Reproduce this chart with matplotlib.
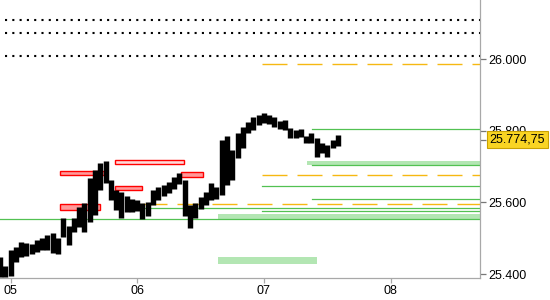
import matplotlib
matplotlib.use('Agg')
import matplotlib.pyplot as plt
from matplotlib.patches import Rectangle
from matplotlib.ticker import FuncFormatter

plt.rcParams['font.family'] = ['Liberation Sans', 'DejaVu Sans']

# hourly bars, x = hours since day 05 00:00
hours = list(range(-2, 63))
highs = [25447, 25422, 25467, 25475, 25489, 25487, 25484, 25495, 25500, 25509,
         25514, 25500, 25556, 25534, 25556, 25587, 25598, 25668, 25690, 25710,
         25715, 25662, 25634, 25629, 25618, 25609, 25607, 25598, 25601, 25634,
         25643, 25648, 25657, 25671, 25682, 25662, 25593, 25598, 25615, 25629,
         25654, 25643, 25774, 25785, 25746, 25793, 25810, 25824, 25838, 25844,
         25849, 25844, 25838, 25827, 25830, 25807, 25802, 25805, 25785, 25793,
         25780, 25766, 25760, 25774, 25788]
lows = [25392, 25392, 25394, 25434, 25447, 25450, 25456, 25461, 25467, 25467,
        25459, 25456, 25503, 25481, 25517, 25531, 25517, 25545, 25565, 25634,
        25654, 25607, 25579, 25556, 25573, 25573, 25576, 25553, 25562, 25593,
        25607, 25618, 25626, 25637, 25651, 25562, 25528, 25556, 25581, 25593,
        25607, 25609, 25620, 25648, 25662, 25724, 25752, 25793, 25802, 25816,
        25821, 25819, 25810, 25805, 25802, 25780, 25780, 25782, 25766, 25766,
        25727, 25738, 25727, 25752, 25757]
last_price = 25774.75

day_ticks = [0, 24, 48, 72]
day_labels = ['05', '06', '07', '08']
price_ticks = [25400, 25600, 25800, 26000]

# horizontal levels and the hour where each one starts
dotted_levels = [26109, 26073, 26008]
dotted_start = -1.0
orange_levels = [25986, 25676, 25595]
orange_starts = [47.6, 47.6, 25.0]
green_levels = [25553, 25584, 25576, 25609, 25646, 25704, 25805]
green_starts = [-2.0, 25.0, 47.6, 57.1, 47.6, 57.1, 57.1]

# green zones: low, high, start, end (None = open to the right)
gz_low = [25704, 25553, 25428]
gz_high = [25715, 25567, 25447]
gz_start = [56.2, 39.3, 39.3]
gz_end = [None, None, 58.1]

# red zones
rz_low = [25677, 25708, 25635, 25578, 25672]
rz_high = [25687, 25718, 25645, 25595, 25684]
rz_start = [9.4, 19.8, 19.8, 9.4, 32.3]
rz_end = [17.8, 32.9, 25.0, 16.9, 36.4]
rz_fill = ['#ff9a9a', '#ffdada', '#ff9a9a', '#ff9a9a', '#ff9a9a']

x_min, x_max = -1.99, 88.93
y_min, y_max = 25388.9, 26164.7

fig = plt.figure(figsize=(5.5, 3), dpi=100)
ax = fig.add_axes([0, 22 / 300, 480 / 550, 278 / 300])
ax.set_xlim(x_min, x_max)
ax.set_ylim(y_min, y_max)

for lv in dotted_levels:
    ax.plot([dotted_start, x_max], [lv, lv], color='black', lw=1.5,
            linestyle=(0, (1, 2.5)), zorder=2)

for lv, st in zip(orange_levels, orange_starts):
    ax.plot([st, x_max], [lv, lv], color='#f6b812', lw=1.0,
            linestyle=(0, (18, 7.2)), zorder=2)

for lv, st in zip(green_levels, green_starts):
    ax.plot([st, x_max], [lv, lv], color='#52c152', lw=0.9, zorder=2)

for lo, hi, st, en in zip(gz_low, gz_high, gz_start, gz_end):
    en = x_max if en is None else en
    ax.add_patch(Rectangle((st, lo), en - st, hi - lo, facecolor='#b3e6b3',
                           edgecolor='none', zorder=1))

for lo, hi, st, en, fc in zip(rz_low, rz_high, rz_start, rz_end, rz_fill):
    ax.add_patch(Rectangle((st, lo), en - st, hi - lo, facecolor=fc,
                           edgecolor='#ff0000', lw=1.0, zorder=3))

# price bars
ax.vlines(hours, lows, highs, color='black', lw=3.9, zorder=4)

# axes styling
for s in ['top', 'left']:
    ax.spines[s].set_visible(False)
for s in ['right', 'bottom']:
    ax.spines[s].set_color('#a8a8a8')
    ax.spines[s].set_linewidth(0.9)

ax.yaxis.tick_right()
ax.set_yticks(price_ticks)
ax.yaxis.set_major_formatter(FuncFormatter(lambda v, p: f"{v:,.0f}".replace(',', '.')))
ax.set_yticks([last_price], minor=True)
ax.tick_params(axis='y', which='both', length=4.3, width=0.9, color='#777777',
               pad=1.5, labelsize=9, labelcolor='black')
ax.set_xticks(day_ticks)
ax.set_xticklabels(day_labels)
ax.tick_params(axis='x', length=3.6, width=0.9, color='#a8a8a8', pad=1.5,
               labelsize=9, labelcolor='black')

# current price label (covers the 25.800 tick label like in the terminal)
lbl = f"{last_price:,.2f}".replace(',', 'X').replace('.', ',').replace('X', '.')
fig.text(517 / 550, 1 - 139.5 / 300, lbl, ha='center', va='center', fontsize=9,
         bbox=dict(boxstyle='square,pad=0.22', facecolor='#f9d423',
                   edgecolor='#c9a100', lw=0.8), zorder=10)

fig.savefig('out.png', dpi=100)
